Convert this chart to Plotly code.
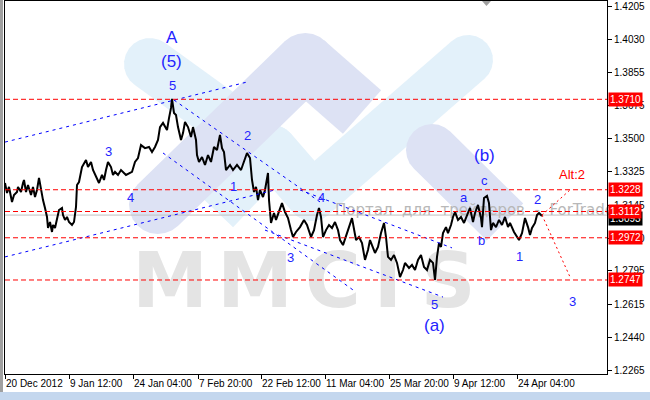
import math
import plotly.graph_objects as go

# H4 bars (one bar per pixel column)
bar = [0, 2, 4, 7, 9, 12, 13, 16, 18, 19, 21, 23, 26, 28, 30, 32, 34, 36, 38, 40,
       42, 43, 45, 47, 48, 50, 52, 54, 57, 58, 60, 62, 64, 67, 69, 71, 72, 74, 77, 79,
       81, 83, 86, 88, 90, 92, 94, 97, 99, 101, 103, 106, 108, 110, 113, 116, 121, 127, 130, 133,
       136, 140, 144, 147, 150, 153, 155, 158, 162, 164, 166, 167, 169, 171, 173, 176, 178, 180, 183, 186,
       188, 191, 192, 194, 197, 200, 203, 206, 209, 212, 215, 217, 219, 221, 225, 228, 232, 236, 239, 242,
       245, 247, 249, 251, 253, 255, 258, 260, 263, 264, 266, 269, 271, 274, 277, 280, 283, 286, 288, 291,
       295, 299, 302, 306, 309, 312, 314, 316, 318, 321, 324, 327, 330, 333, 335, 338, 341, 344, 347, 349,
       351, 354, 357, 360, 363, 365, 368, 370, 373, 376, 379, 381, 383, 386, 389, 392, 395, 398, 400, 404,
       407, 410, 413, 416, 419, 422, 425, 428, 430, 432, 434, 436, 438, 441, 443, 446, 448, 450, 453, 456,
       459, 462, 465, 468, 470, 473, 476, 477, 479, 482, 484, 486, 488, 491, 494, 497, 500, 503, 505, 509,
       512, 514, 517, 520, 523, 525, 527, 530, 532, 534, 537]
close = [1.3264, 1.3211, 1.3243, 1.3163, 1.3200, 1.3216, 1.3243, 1.3216, 1.3264, 1.3280,
         1.3216, 1.3253, 1.3200, 1.3243, 1.3189, 1.3227, 1.3291, 1.3227, 1.3173, 1.3131,
         1.3083, 1.3024, 1.3056, 1.3003, 1.3040, 1.3024, 1.3077, 1.3120, 1.3131, 1.3093,
         1.3067, 1.3083, 1.3056, 1.3040, 1.3056, 1.3136, 1.3253, 1.3269, 1.3349, 1.3370,
         1.3387, 1.3349, 1.3376, 1.3333, 1.3307, 1.3280, 1.3264, 1.3307, 1.3280, 1.3333,
         1.3376, 1.3349, 1.3307, 1.3323, 1.3307, 1.3333, 1.3307, 1.3323, 1.3376, 1.3397,
         1.3466, 1.3450, 1.3456, 1.3429, 1.3456, 1.3493, 1.3562, 1.3584, 1.3546, 1.3610,
         1.3664, 1.3712, 1.3637, 1.3626, 1.3562, 1.3493, 1.3530, 1.3589, 1.3562, 1.3509,
         1.3562, 1.3493, 1.3413, 1.3376, 1.3402, 1.3360, 1.3413, 1.3376, 1.3456, 1.3440,
         1.3520, 1.3450, 1.3429, 1.3333, 1.3360, 1.3333, 1.3360, 1.3333, 1.3376, 1.3424,
         1.3397, 1.3280, 1.3216, 1.3243, 1.3173, 1.3227, 1.3189, 1.3227, 1.3317, 1.3173,
         1.3051, 1.3104, 1.3067, 1.3109, 1.3157, 1.3109, 1.3077, 1.3013, 1.2976, 1.3003,
         1.3029, 1.3067, 1.3040, 1.2976, 1.3013, 1.3093, 1.3131, 1.3083, 1.2976, 1.3013,
         1.3040, 1.3024, 1.3056, 1.3013, 1.2960, 1.2933, 1.2976, 1.3029, 1.3077, 1.3013,
         1.2960, 1.2976, 1.2944, 1.2854, 1.2907, 1.2960, 1.2923, 1.2891, 1.2923, 1.2997,
         1.3051, 1.2976, 1.2870, 1.2854, 1.2880, 1.2838, 1.2763, 1.2800, 1.2838, 1.2811,
         1.2827, 1.2800, 1.2854, 1.2880, 1.2816, 1.2800, 1.2854, 1.2838, 1.2747, 1.2870,
         1.2944, 1.2923, 1.2997, 1.3029, 1.2997, 1.3040, 1.3083, 1.3109, 1.3067, 1.3083,
         1.3051, 1.3093, 1.3131, 1.3056, 1.3104, 1.3147, 1.3077, 1.3029, 1.3184, 1.3195,
         1.3157, 1.3013, 1.3051, 1.3029, 1.3067, 1.3040, 1.3083, 1.3029, 1.3051, 1.3003,
         1.2976, 1.2960, 1.2997, 1.3077, 1.3029, 1.2987, 1.3024, 1.3051, 1.3093, 1.3104,
         1.3088]

bid = 1.3093
levels = [1.3710, 1.3228, 1.3112, 1.2972, 1.2747]

x_tickvals = [0, 64, 128, 193, 256, 320, 384, 448, 512]
x_ticktext = ["20 Dec 2012", "9 Jan 12:00", "24 Jan 04:00", "7 Feb 20:00", "22 Feb 12:00",
              "11 Mar 04:00", "25 Mar 20:00", "9 Apr 12:00", "24 Apr 04:00"]
y_tickvals = [1.4205, 1.4030, 1.3855, 1.3675, 1.3500, 1.3325, 1.3145, 1.2970,
              1.2795, 1.2615, 1.2440, 1.2265]

# blue dotted channel lines: start bar/price, end bar/price
chan_b0 = [0, 0, 169, 158, 295, 260]
chan_p0 = [1.3482, 1.2870, 1.3706, 1.3424, 1.3227, 1.3013]
chan_b1 = [242, 270, 315, 348, 447, 438]
chan_p1 = [1.3802, 1.3227, 1.3163, 1.2694, 1.2918, 1.2656]

# red dotted forecast paths
fc_bar = [[537, 565], [537, 565]]
fc_price = [[1.3093, 1.3227], [1.3093, 1.2763]]

# wave labels
wave_text = ["A", "(5)", "5", "3", "4", "2", "1", "4", "3", "5", "(a)", "(b)",
             "a", "c", "b", "1", "2", "3"]
wave_bar = [167, 166, 167, 103, 125, 242, 228, 316, 285, 429, 429, 479,
            459, 479, 476, 514, 532, 567]
wave_price = [1.4037, 1.3909, 1.3781, 1.3434, 1.3189, 1.3515, 1.3243, 1.3189, 1.2865, 1.2614,
              1.2507, 1.3408, 1.3189, 1.3275, 1.2960, 1.2870, 1.3178, 1.2630]
big = {"A", "(5)", "(a)", "(b)"}

BLUE = "#2424ff"
RED = "#ff0000"
FONT = "Liberation Sans, Arial, sans-serif"

L, R, T, B = 5, 43, 1, 26
W, H = 650, 400
PW, PH = W - L - R, H - T - B
Y_RANGE = [1.22459, 1.4234]


def px(x, y):
    # window pixel -> paper
    return (x - L) / PW, (H - B - y) / PH


def to_bar(x):
    return x - L


def to_price(y):
    return Y_RANGE[1] - (y - T) * (Y_RANGE[1] - Y_RANGE[0]) / PH


def band(p, q, w, color, cap0=True, cap1=True):
    (x0, y0), (x1, y1) = p, q
    d = math.hypot(x1 - x0, y1 - y0)
    ux, uy = (x1 - x0) / d, (y1 - y0) / d
    nx, ny = -uy, ux
    r = w / 2
    pts = []
    if cap1:
        for k in range(13):
            a = math.pi * k / 12
            pts.append((x1 + r * (nx * math.cos(a) + ux * math.sin(a)),
                        y1 + r * (ny * math.cos(a) + uy * math.sin(a))))
    else:
        pts += [(x1 + r * nx, y1 + r * ny), (x1 - r * nx, y1 - r * ny)]
    if cap0:
        for k in range(13):
            a = math.pi * k / 12
            pts.append((x0 - r * (nx * math.cos(a) + ux * math.sin(a)),
                        y0 - r * (ny * math.cos(a) + uy * math.sin(a))))
    else:
        pts += [(x0 - r * nx, y0 - r * ny), (x0 + r * nx, y0 + r * ny)]
    path = "M " + " L ".join(f"{px(a, b)[0]:.4f},{px(a, b)[1]:.4f}" for a, b in pts) + " Z"
    return dict(type="path", path=path, xref="paper", yref="paper", fillcolor=color,
                line=dict(width=0), layer="below")


LB, LV = "#e3f1fa", "#dde2f4"

fig = go.Figure()

# background logo
shapes = [
    band((150, 64), (222, 116), 52, LB, True, False),
    band((215, 210), (272, 150), 50, LB, False, True),
    band((272, 150), (312, 196), 50, LB, True, True),
    band((312, 196), (468, 60), 50, LB, True, True),
    band((158, 205), (305, 62), 58, LV, True, True),
    band((305, 62), (362, 112), 58, LV, False, False),
    band((432, 150), (505, 222), 52, LV, True, False),
]

# watermark texts, kept under the price line
fig.add_trace(go.Scatter(
    x=[to_bar(v) for v in [170, 255, 333, 388, 448]], y=[to_price(288)] * 5,
    text=["<b>M</b>", "<b>M</b>", "<b>C</b>", "<b>I</b>", "<b>S</b>"],
    mode="text", textposition="middle center",
    textfont=dict(family="DejaVu Sans", size=76, color="#e4e4e4"),
    showlegend=False, hoverinfo="skip"))
fig.add_trace(go.Scatter(
    x=[to_bar(335)], y=[to_price(211)], text=["Портал  для  трейдеров  -  ForTrader"],
    mode="text", textposition="middle right",
    textfont=dict(family="DejaVu Sans", size=15, color="#b8b8b8"),
    showlegend=False, hoverinfo="skip", cliponaxis=False))

fig.add_trace(go.Scatter(x=bar, y=close, mode="lines", line=dict(color="black", width=2),
                         showlegend=False, hoverinfo="skip"))

for b0, p0, b1, p1 in zip(chan_b0, chan_p0, chan_b1, chan_p1):
    fig.add_trace(go.Scatter(x=[b0, b1], y=[p0, p1], mode="lines",
                             line=dict(color="#0000ff", width=1, dash="3px,4px"),
                             showlegend=False, hoverinfo="skip"))

for fb, fp in zip(fc_bar, fc_price):
    fig.add_trace(go.Scatter(x=fb, y=fp, mode="lines",
                             line=dict(color=RED, width=1, dash="2px,3px"),
                             showlegend=False, hoverinfo="skip"))

for lv in levels:
    shapes.append(dict(type="line", xref="paper", x0=0, x1=1, yref="y", y0=lv, y1=lv,
                       line=dict(color=RED, width=1, dash="5px,3px")))
shapes.append(dict(type="line", xref="paper", x0=0, x1=1, yref="y", y0=bid, y1=bid,
                   line=dict(color="#c0c0c0", width=1), layer="below"))

# window frame bits
tri = [(482, 1), (491, 1), (486.5, 6)]
shapes += [
    dict(type="rect", xref="paper", yref="paper", x0=px(0, 0)[0], x1=px(3, 0)[0],
         y0=px(0, 400)[1], y1=px(0, 0)[1], fillcolor="#a0a0a0", line=dict(width=0)),
    dict(type="rect", xref="paper", yref="paper", x0=px(0, 0)[0], x1=px(650, 0)[0],
         y0=px(0, 400)[1], y1=px(0, 392)[1], fillcolor="#c4d7ee", line=dict(width=0)),
    dict(type="path", xref="paper", yref="paper", fillcolor="#a0a0a0", line=dict(width=0),
         path="M " + " L ".join(f"{px(a, b)[0]:.4f},{px(a, b)[1]:.4f}" for a, b in tri) + " Z"),
]

annotations = []
for t, b, p in zip(wave_text, wave_bar, wave_price):
    annotations.append(dict(x=b, y=p, text=t, showarrow=False,
                            font=dict(family=FONT, size=17 if t in big else 13, color=BLUE)))
annotations.append(dict(x=567, y=1.3307, text="Alt:2", showarrow=False,
                        font=dict(family=FONT, size=13, color=RED)))

# price labels on the axis
annotations.append(dict(x=1, xref="paper", y=bid, yref="y", xanchor="left", xshift=1,
                        yshift=-3, text="1.3093", showarrow=False, bgcolor="black",
                        borderpad=1, font=dict(family=FONT, size=10, color="white")))
for lv in levels:
    annotations.append(dict(x=1, xref="paper", y=lv, yref="y", xanchor="left", xshift=1,
                            text=f"{lv:.4f}", showarrow=False, bgcolor=RED, borderpad=1,
                            font=dict(family=FONT, size=10, color="white")))

fig.update_layout(
    width=W, height=H,
    margin=dict(l=L, r=R, t=T, b=B, autoexpand=False),
    paper_bgcolor="white", plot_bgcolor="white",
    shapes=shapes, annotations=annotations,
    xaxis=dict(range=[0, 602], tickvals=x_tickvals, ticktext=x_ticktext, tickangle=0,
               ticks="outside", ticklen=4, tickcolor="black", automargin=False,
               ticklabelposition="outside right",
               showgrid=False, zeroline=False, showline=True, linecolor="black", mirror=True,
               tickfont=dict(family=FONT, size=10, color="black")),
    yaxis=dict(range=Y_RANGE, side="right", tickvals=y_tickvals,
               ticktext=[f"{v:.4f}" for v in y_tickvals], automargin=False,
               ticks="outside", ticklen=4, tickcolor="black",
               showgrid=False, zeroline=False, showline=True, linecolor="black", mirror=True,
               tickfont=dict(family=FONT, size=10, color="black")),
    showlegend=False,
)

# drop the page's default body margin so the figure sits at the window's corner
fig.write_html("out.html", config={"displayModeBar": False},
               post_script="document.body.style.margin='0px';")
